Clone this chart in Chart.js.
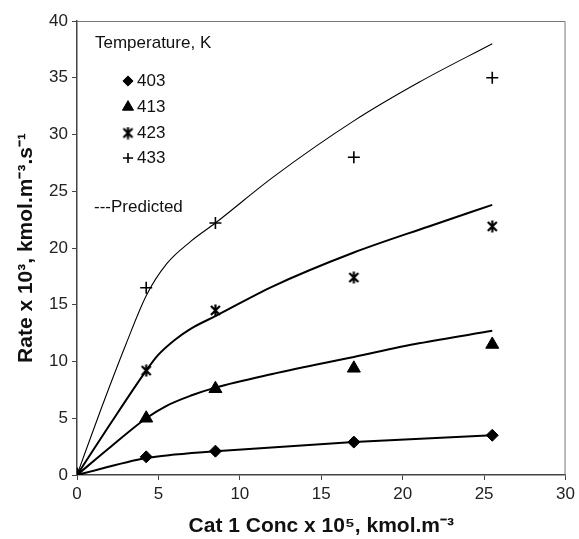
<!DOCTYPE html>
<html>
<head>
<meta charset="utf-8">
<script src="https://cdn.jsdelivr.net/npm/chart.js@4/dist/chart.umd.min.js"></script>
<style>
  html, body { margin: 0; padding: 0; background: #fff; }
  #wrap { width: 579px; height: 539px; position: relative; }
</style>
</head>
<body>
<div id="wrap"><canvas id="rateChart"></canvas></div>
<script>
(function () {
  "use strict";

  // measured points, x = Cat 1 conc (x10^5 kmol/m3), y = rate (x10^3)
  var concX = [0, 4.25, 8.5, 17, 25.5];
  var rate403 = [0, 1.6, 2.1, 2.9, 3.5];
  var rate413 = [0, 5.0, 7.6, 9.4, 11.5];
  var rate423 = [0, 9.2, 14.5, 17.4, 21.9];
  var rate433 = [0, 16.5, 22.2, 28.0, 35.0];

  // predicted curves
  var pred403X = [0, 4.25, 6, 8.5, 17, 25.5];
  var pred403Y = [0, 1.5, 1.8, 2.1, 2.9, 3.5];
  var pred413X = [0, 2, 4.25, 5.5, 7, 8.5, 12, 17, 21, 25.5];
  var pred413Y = [0, 2.4, 5.0, 6.1, 7.0, 7.7, 8.9, 10.4, 11.6, 12.7];
  var pred423X = [0, 2, 4.25, 5, 6, 7, 8.5, 12, 17, 21.6, 25.5];
  var pred423Y = [0, 4.4, 9.2, 10.6, 11.9, 12.9, 14.0, 16.6, 19.6, 21.9, 23.8];
  var pred433X = [0, 1.5, 3, 4.25, 5.5, 7, 8.5, 12, 17, 21, 25.5];
  var pred433Y = [0, 5.9, 11.5, 15.8, 18.6, 20.6, 22.2, 26.2, 31.2, 34.6, 38.0];

  var tempLabels = ["403", "413", "423", "433"];
  var legendTitle = "Temperature, K";
  var predictedLabel = "---Predicted";

  function pairs(xs, ys) {
    return xs.map(function (x, i) { return { x: x, y: ys[i] }; });
  }

  // asterisk marker: X with a vertical stroke
  var star = document.createElement("canvas");
  star.width = 13; star.height = 13;
  var sc = star.getContext("2d");
  sc.strokeStyle = "#000";
  sc.lineWidth = 2.2;
  sc.beginPath();
  sc.moveTo(2, 2); sc.lineTo(11, 11);
  sc.moveTo(11, 2); sc.lineTo(2, 11);
  sc.moveTo(6.5, 0.5); sc.lineTo(6.5, 12.5);
  sc.stroke();

  var markers = [
    { style: "rectRot", r: 6 },
    { style: "triangle", r: 7.5 },
    { style: star, r: 6 },
    { style: "cross", r: 6 }
  ];

  function pointSet(ys, m) {
    return {
      data: pairs(concX, ys),
      showLine: false,
      pointStyle: m.style,
      pointRadius: m.r,
      pointBackgroundColor: "#000",
      pointBorderColor: "#000",
      pointBorderWidth: m.style === "cross" ? 1.6 : 1,
      order: 0
    };
  }

  function curveSet(xs, ys, w) {
    return {
      data: pairs(xs, ys),
      showLine: true,
      borderColor: "#000",
      borderWidth: w,
      pointRadius: 0,
      cubicInterpolationMode: "monotone",
      fill: false,
      order: 1
    };
  }

  var frame = {
    id: "frame",
    beforeDatasetsDraw: function (chart) {
      var a = chart.chartArea, ctx = chart.ctx;
      ctx.save();
      ctx.strokeStyle = "#777";
      ctx.lineWidth = 1;
      ctx.beginPath();
      ctx.moveTo(a.left, a.top + 0.5);
      ctx.lineTo(a.right - 0.5, a.top + 0.5);
      ctx.lineTo(a.right - 0.5, a.bottom);
      ctx.stroke();
      ctx.restore();
    },
    afterDraw: function (chart) {
      var ctx = chart.ctx, a = chart.chartArea;
      var lx = a.left + 18, mx = a.left + 51, tx = a.left + 60;
      ctx.save();
      ctx.fillStyle = "#111";
      ctx.font = "17px 'Liberation Sans', Arial, sans-serif";
      ctx.textBaseline = "middle";
      ctx.fillText(legendTitle, lx, a.top + 22);
      var ys = [60, 86, 112, 137];
      tempLabels.forEach(function (t, i) {
        var m = markers[i];
        ctx.fillStyle = "#000";
        ctx.strokeStyle = "#000";
        ctx.lineWidth = m.style === "cross" ? 1.6 : 1;
        Chart.helpers.drawPoint(ctx, { pointStyle: m.style, radius: m.r * 0.85, rotation: 0, borderWidth: ctx.lineWidth }, mx, a.top + ys[i]);
        ctx.fillStyle = "#111";
        ctx.fillText(t, tx, a.top + ys[i]);
      });
      ctx.fillText(predictedLabel, lx - 1, a.top + 186);
      ctx.restore();
    }
  };

  var tickFont = { family: "'Liberation Sans', Arial, sans-serif", size: 17 };
  var titleFont = { family: "'Liberation Sans', Arial, sans-serif", size: 21, weight: "bold" };

  new Chart(document.getElementById("rateChart"), {
    type: "scatter",
    data: {
      datasets: [
        pointSet(rate403, markers[0]),
        pointSet(rate413, markers[1]),
        pointSet(rate423, markers[2]),
        pointSet(rate433, markers[3]),
        curveSet(pred403X, pred403Y, 2),
        curveSet(pred413X, pred413Y, 2),
        curveSet(pred423X, pred423Y, 2),
        curveSet(pred433X, pred433Y, 1.1)
      ]
    },
    options: {
      responsive: true,
      maintainAspectRatio: false,
      animation: false,
      layout: { padding: { left: 0, right: 12, top: 21, bottom: 0 } },
      plugins: { legend: { display: false }, tooltip: { enabled: false } },
      scales: {
        x: {
          type: "linear",
          min: 0,
          max: 30,
          afterFit: function (s) { s.height = 64; },
          ticks: { stepSize: 5, color: "#222", font: tickFont, padding: 4, maxRotation: 0 },
          grid: { drawOnChartArea: false, tickLength: 5, tickColor: "#444" },
          border: { color: "#444", width: 1.5 },
          title: { display: true, text: "Cat 1 Conc x 10⁵, kmol.m⁻³", color: "#111", font: titleFont, padding: { top: 0, bottom: 0 } }
        },
        y: {
          min: 0,
          max: 40,
          afterFit: function (s) { s.width = 77; },
          ticks: { stepSize: 5, color: "#222", font: tickFont, padding: 4 },
          grid: { drawOnChartArea: false, tickLength: 5, tickColor: "#444" },
          border: { color: "#444", width: 1.5 },
          title: { display: true, text: "Rate x 10³, kmol.m⁻³.s⁻¹", color: "#111", font: titleFont, padding: { top: 14, bottom: 4 } }
        }
      }
    },
    plugins: [frame]
  });
})();
</script>
</body>
</html>
